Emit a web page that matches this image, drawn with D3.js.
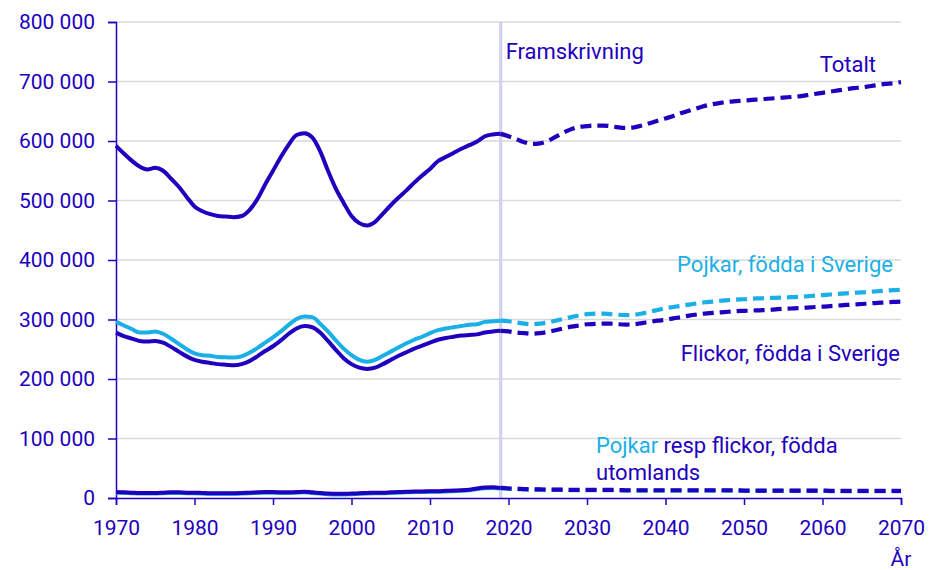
<!DOCTYPE html>
<html>
<head>
<meta charset="utf-8">
<script src="https://cdn.jsdelivr.net/npm/d3@7"></script>
<style>
  body { margin: 0; background: #fff; }
  text { font-family: Roboto, "Noto Sans", sans-serif; }
</style>
</head>
<body>
<svg class="chart" width="931" height="570"></svg>
<script>
// Years
const histYears = d3.range(1970, 2020); // 1970..2019, observed
const progYears = d3.range(2019, 2071); // 2019..2070, projection

// Observed values (thousands)
const totalHist = [
  592, 579, 567, 557, 552, 555, 550, 537, 523, 506,
  490, 482, 477, 474, 473, 472, 474, 484, 502, 527,
  550, 573, 594, 610, 613, 606, 583, 550, 520, 496,
  474, 462, 458, 464, 478, 492, 505, 517, 530, 542,
  553, 566, 573, 580, 587, 593, 599, 608, 611, 612
];
const boysSweHist = [
  296, 290, 284, 278, 278, 280, 276, 268, 259, 250,
  243, 240, 239, 237, 236.5, 236, 238, 244, 252, 261,
  270, 280, 291, 301, 305, 304, 293, 280, 265, 251,
  240, 232, 229, 232, 239, 246, 253, 260, 266, 271,
  277, 282, 285, 287, 289, 291, 292, 296, 297, 298
];
const girlsSweHist = [
  278, 272, 268, 264, 263, 264, 261, 254, 246, 238,
  232, 229, 227, 225, 224, 223, 225, 230, 238, 247,
  255, 265, 276, 285, 289, 287, 278, 264, 249, 235,
  225, 219, 217, 219, 225, 232, 239, 245, 251, 256,
  261, 266, 269, 271, 273, 274, 275, 278, 280, 281
];
const girlsAbrHist = [
  10, 9.5, 9, 8.5, 8.5, 8.5, 9, 9.5, 9.5, 9,
  9, 8.5, 8, 8, 8, 8, 8.5, 9, 9.5, 10,
  10, 9.5, 9.5, 10, 10.5, 9.5, 8.5, 7.5, 7, 7,
  7.5, 8, 8.5, 9, 9, 9.5, 10, 10.5, 11, 11,
  11.5, 11.5, 12, 12.5, 13, 14, 16, 17.5, 18, 17
];
const boysAbrHist = [
  9, 8.5, 8, 7.5, 7.5, 7.5, 8, 8.5, 8.5, 8,
  8, 7.5, 7, 7, 7, 7, 7.5, 8, 8.5, 9,
  9, 8.5, 8.5, 9, 9.5, 8.5, 7.5, 6.5, 6, 6,
  6.5, 7, 7.5, 8, 8, 8.5, 9, 9.5, 10, 10,
  10.5, 10.5, 11, 11.5, 12, 13, 15, 16.5, 17, 16
];

// Projection values (thousands)
const totalProg = [
  612, 608, 603, 598, 595, 596, 600, 607, 614, 620,
  624, 625, 626, 626, 625, 623, 622, 623, 626, 630,
  634, 638, 642, 647, 651, 655, 659, 662, 664, 666,
  667, 668, 669, 670, 671, 672, 673, 674, 675, 677,
  679, 681, 683, 685, 687, 689, 690, 692, 694, 696,
  697, 699
];
const boysSweProg = [
  298, 297, 295, 293, 292, 293, 295, 298, 301, 304,
  307, 309, 310, 310, 309, 308, 307.5, 308, 310, 313,
  316, 319, 321, 323, 325, 327, 329, 330, 331.5, 332.5,
  333.5, 334, 335, 335.5, 336, 336.5, 337, 337.5, 338, 339,
  340, 341, 342, 343, 344, 345, 345.5, 346.5, 347.5, 348.5,
  349.5, 350
];
const girlsSweProg = [
  281, 280, 278, 277, 276, 277, 279, 282, 285, 288,
  290, 292, 292.5, 293, 293, 292, 291.5, 292, 294, 296,
  298, 299.5, 302, 304, 306.5, 308.5, 310, 311, 312, 313,
  314, 314.5, 315, 315.5, 316, 317, 318, 318.5, 319, 320,
  321, 321.5, 322.5, 323.5, 324.5, 325, 326, 327, 328, 328.5,
  329.5, 330
];
const girlsAbrProg = [
  17, 16, 15.5, 15, 14.5, 14.5, 14, 14, 14, 13.5,
  13.5, 13.5, 13.5, 13.5, 13.5, 13.5, 13, 13, 13, 13,
  13, 13, 13, 13, 13, 13, 13, 13, 13, 13,
  13, 12.5, 12.5, 12.5, 12.5, 12.5, 12.5, 12.5, 12.5, 12.5,
  12.5, 12.5, 12, 12, 12, 12, 12, 12, 12, 12,
  12, 12
];
const boysAbrProg = girlsAbrProg.map(v => v - 0.5);

const yTicks = [0, 100000, 200000, 300000, 400000, 500000, 600000, 700000, 800000];
const xTicks = d3.range(1970, 2071, 10);

const dark = '#1e00be';
const light = '#1aafe6';

const svg = d3.select('svg.chart');
const x = d3.scaleLinear().domain([1970, 2070]).range([116, 901]);
const y = d3.scaleLinear().domain([0, 800000]).range([498, 22]);

// Gridlines
svg.append('g')
  .selectAll('line')
  .data(yTicks.slice(1))
  .enter()
  .append('line')
  .attr('x1', x(1970))
  .attr('x2', x(2070))
  .attr('y1', d => y(d))
  .attr('y2', d => y(d))
  .attr('stroke', '#d9d9d9')
  .attr('stroke-width', 1.5);

// Projection marker
svg.append('line')
  .attr('x1', x(2019)).attr('x2', x(2019))
  .attr('y1', y(800000)).attr('y2', y(0))
  .attr('stroke', '#d3d3ef')
  .attr('stroke-width', 3.5);

svg.append('text')
  .attr('x', x(2019) + 5)
  .attr('y', 59)
  .attr('fill', dark)
  .attr('font-size', 22)
  .text('Framskrivning');

// Y axis
const yAxis = d3.axisLeft(y)
  .tickValues(yTicks)
  .tickSize(8)
  .tickPadding(13)
  .tickFormat(d => d3.format(',')(d).replace(/,/g, ' '));
const yG = svg.append('g')
  .attr('transform', `translate(${x(1970)},0)`)
  .call(yAxis);

// X axis
const xAxis = d3.axisBottom(x)
  .tickValues(xTicks)
  .tickSize(7)
  .tickPadding(15)
  .tickFormat(d3.format('d'));
const xG = svg.append('g')
  .attr('transform', `translate(0,${y(0)})`)
  .call(xAxis);

[yG, xG].forEach(g => {
  g.select('.domain').attr('stroke', dark).attr('stroke-width', 1.5);
  g.selectAll('.tick line').attr('stroke', dark).attr('stroke-width', 1.5);
  g.selectAll('.tick text')
    .attr('fill', dark)
    .attr('font-size', 21)
    .attr('font-family', 'Roboto, sans-serif');
});

svg.append('text')
  .attr('x', 901)
  .attr('y', 566)
  .attr('text-anchor', 'middle')
  .attr('fill', dark)
  .attr('font-size', 21)
  .text('År');

// Lines
const line = d3.line()
  .x(d => x(d[0]))
  .y(d => y(d[1] * 1000))
  .curve(d3.curveMonotoneX);

const series = [
  { hist: boysAbrHist, prog: boysAbrProg, color: light },
  { hist: girlsAbrHist, prog: girlsAbrProg, color: dark },
  { hist: girlsSweHist, prog: girlsSweProg, color: dark },
  { hist: boysSweHist, prog: boysSweProg, color: light },
  { hist: totalHist, prog: totalProg, color: dark }
];

series.forEach(s => {
  svg.append('path')
    .datum(histYears.map((yr, i) => [yr, s.hist[i]]))
    .attr('d', line)
    .attr('fill', 'none')
    .attr('stroke', s.color)
    .attr('stroke-width', 4)
    .attr('stroke-linejoin', 'round');
  svg.append('path')
    .datum(progYears.map((yr, i) => [yr, s.prog[i]]))
    .attr('d', line)
    .attr('fill', 'none')
    .attr('stroke', s.color)
    .attr('stroke-width', 4.2)
    .attr('stroke-dasharray', '11,6');
});

// Series labels
svg.append('text')
  .attr('x', 876).attr('y', 72)
  .attr('text-anchor', 'end')
  .attr('fill', dark)
  .attr('font-size', 22)
  .text('Totalt');

svg.append('text')
  .attr('x', 893).attr('y', 272)
  .attr('text-anchor', 'end')
  .attr('fill', light)
  .attr('font-size', 22)
  .text('Pojkar, födda i Sverige');

svg.append('text')
  .attr('x', 900).attr('y', 361)
  .attr('text-anchor', 'end')
  .attr('fill', dark)
  .attr('font-size', 22)
  .text('Flickor, födda i Sverige');

const abr = svg.append('text')
  .attr('x', 596).attr('y', 453)
  .attr('fill', dark)
  .attr('font-size', 22);
abr.append('tspan').attr('fill', light).text('Pojkar');
abr.append('tspan').text(' resp flickor, födda');

svg.append('text')
  .attr('x', 596).attr('y', 480)
  .attr('fill', dark)
  .attr('font-size', 22)
  .text('utomlands');
</script>
</body>
</html>
